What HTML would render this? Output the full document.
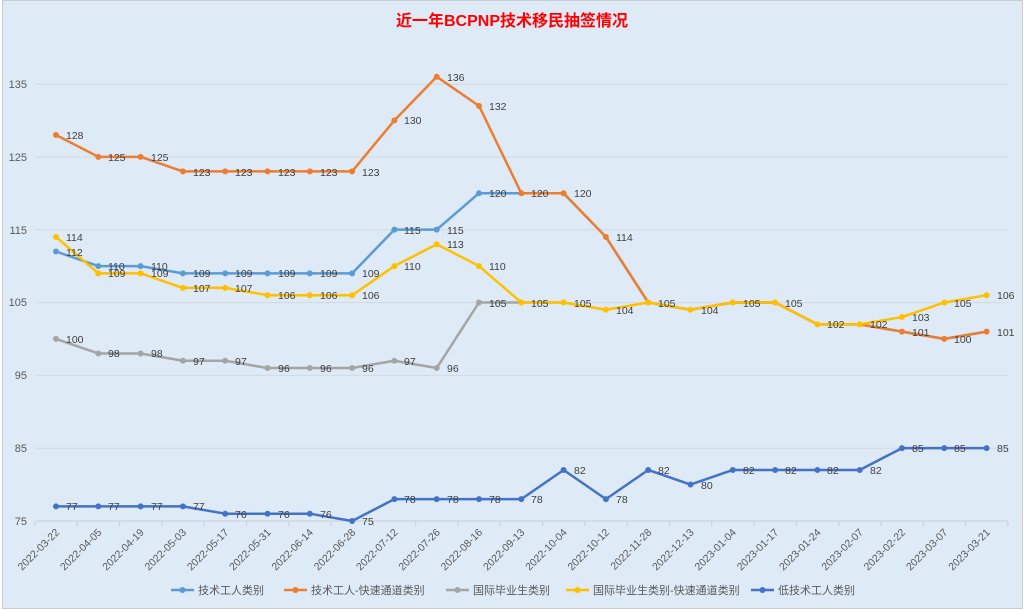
<!DOCTYPE html>
<html><head><meta charset="utf-8"><style>
html,body{margin:0;padding:0;background:#fff;}
svg{display:block;font-family:"Liberation Sans","Noto Sans CJK SC",sans-serif;}
</style></head><body>
<svg width="1024" height="610" viewBox="0 0 1024 610" xmlns="http://www.w3.org/2000/svg">
<rect x="0" y="0" width="1024" height="610" fill="#fff"/>
<rect x="2.5" y="0.5" width="1020" height="608" fill="#deeaf6" stroke="#c8cdd2"/>
<text x="512" y="26" text-anchor="middle" font-size="16" font-weight="bold" fill="#ff0000">近一年BCPNP技术移民抽签情况</text>
<g stroke="#d3d9de" stroke-width="1">
<line x1="36" x2="1008" y1="448.2" y2="448.2"/>
<line x1="36" x2="1008" y1="375.4" y2="375.4"/>
<line x1="36" x2="1008" y1="302.6" y2="302.6"/>
<line x1="36" x2="1008" y1="229.8" y2="229.8"/>
<line x1="36" x2="1008" y1="157" y2="157"/>
<line x1="36" x2="1008" y1="84.2" y2="84.2"/>
</g>
<line x1="36" x2="1008" y1="521" y2="521" stroke="#c8ced4"/>
<g stroke="#c8ced4" id="ticks">
<path d="M35 521v5M77.3 521v5M119.6 521v5M161.9 521v5M204.2 521v5M246.5 521v5M288.8 521v5M331.1 521v5M373.4 521v5M415.7 521v5M458 521v5M500.3 521v5M542.6 521v5M584.9 521v5M627.2 521v5M669.5 521v5M711.8 521v5M754.1 521v5M796.4 521v5M838.7 521v5M881 521v5M923.3 521v5M965.6 521v5M1007.9 521v5"/>
</g>
<g font-size="11" fill="#595959" text-anchor="end">
<text x="27" y="525">75</text><text x="27" y="452">85</text><text x="27" y="379">95</text>
<text x="27" y="306">105</text><text x="27" y="234">115</text><text x="27" y="161">125</text><text x="27" y="88">135</text>
</g>
<g font-size="10.5" fill="#595959" text-anchor="end">
<text transform="translate(60,533) rotate(-45)">2022-03-22</text>
<text transform="translate(102.3,533) rotate(-45)">2022-04-05</text>
<text transform="translate(144.6,533) rotate(-45)">2022-04-19</text>
<text transform="translate(186.9,533) rotate(-45)">2022-05-03</text>
<text transform="translate(229.2,533) rotate(-45)">2022-05-17</text>
<text transform="translate(271.5,533) rotate(-45)">2022-05-31</text>
<text transform="translate(313.8,533) rotate(-45)">2022-06-14</text>
<text transform="translate(356.1,533) rotate(-45)">2022-06-28</text>
<text transform="translate(398.4,533) rotate(-45)">2022-07-12</text>
<text transform="translate(440.7,533) rotate(-45)">2022-07-26</text>
<text transform="translate(483,533) rotate(-45)">2022-08-16</text>
<text transform="translate(525.3,533) rotate(-45)">2022-09-13</text>
<text transform="translate(567.6,533) rotate(-45)">2022-10-04</text>
<text transform="translate(609.9,533) rotate(-45)">2022-10-12</text>
<text transform="translate(652.2,533) rotate(-45)">2022-11-28</text>
<text transform="translate(694.5,533) rotate(-45)">2022-12-13</text>
<text transform="translate(736.8,533) rotate(-45)">2023-01-04</text>
<text transform="translate(779.1,533) rotate(-45)">2023-01-17</text>
<text transform="translate(821.4,533) rotate(-45)">2023-01-24</text>
<text transform="translate(863.7,533) rotate(-45)">2023-02-07</text>
<text transform="translate(906,533) rotate(-45)">2023-02-22</text>
<text transform="translate(948.3,533) rotate(-45)">2023-03-07</text>
<text transform="translate(990.6,533) rotate(-45)">2023-03-21</text>
</g>
<g transform="matrix(42.3,0,0,-7.283,56,1067.2)" fill="none" stroke-linejoin="round">
<!-- light blue -->
<polyline vector-effect="non-scaling-stroke" stroke="#5b9bd5" stroke-width="2.5" points="0,112 1,110 2,110 3,109 4,109 5,109 6,109 7,109 8,115 9,115 10,120 11,120 12,120 13,114 14,105 15,104 16,105 17,105 18,102 19,102 20,101 21,100 22,101"/>
<path vector-effect="non-scaling-stroke" stroke="#5b9bd5" stroke-width="6" stroke-linecap="round" d="M0 112h0M1 110h0M2 110h0M3 109h0M4 109h0M5 109h0M6 109h0M7 109h0M8 115h0M9 115h0M10 120h0M11 120h0"/>
<!-- orange -->
<polyline vector-effect="non-scaling-stroke" stroke="#ed7d31" stroke-width="2.5" points="0,128 1,125 2,125 3,123 4,123 5,123 6,123 7,123 8,130 9,136 10,132 11,120 12,120 13,114 14,105 15,104 16,105 17,105 18,102 19,102 20,101 21,100 22,101"/>
<path vector-effect="non-scaling-stroke" stroke="#ed7d31" stroke-width="6" stroke-linecap="round" d="M0 128h0M1 125h0M2 125h0M3 123h0M4 123h0M5 123h0M6 123h0M7 123h0M8 130h0M9 136h0M10 132h0M11 120h0M12 120h0M13 114h0M14 105h0M20 101h0M21 100h0M22 101h0"/>
<!-- gray -->
<polyline vector-effect="non-scaling-stroke" stroke="#a5a5a5" stroke-width="2.5" points="0,100 1,98 2,98 3,97 4,97 5,96 6,96 7,96 8,97 9,96 10,105 11,105 12,105"/>
<path vector-effect="non-scaling-stroke" stroke="#a5a5a5" stroke-width="6" stroke-linecap="round" d="M0 100h0M1 98h0M2 98h0M3 97h0M4 97h0M5 96h0M6 96h0M7 96h0M8 97h0M9 96h0M10 105h0"/>
<!-- yellow -->
<polyline vector-effect="non-scaling-stroke" stroke="#ffc000" stroke-width="2.5" points="0,114 1,109 2,109 3,107 4,107 5,106 6,106 7,106 8,110 9,113 10,110 11,105 12,105 13,104 14,105 15,104 16,105 17,105 18,102 19,102 20,103 21,105 22,106"/>
<path vector-effect="non-scaling-stroke" stroke="#ffc000" stroke-width="6" stroke-linecap="round" d="M0 114h0M1 109h0M2 109h0M3 107h0M4 107h0M5 106h0M6 106h0M7 106h0M8 110h0M9 113h0M10 110h0M11 105h0M12 105h0M13 104h0M14 105h0M15 104h0M16 105h0M17 105h0M18 102h0M19 102h0M20 103h0M21 105h0M22 106h0"/>
<!-- dark blue -->
<polyline vector-effect="non-scaling-stroke" stroke="#4472c4" stroke-width="2.5" points="0,77 1,77 2,77 3,77 4,76 5,76 6,76 7,75 8,78 9,78 10,78 11,78 12,82 13,78 14,82 15,80 16,82 17,82 18,82 19,82 20,85 21,85 22,85"/>
<path vector-effect="non-scaling-stroke" stroke="#4472c4" stroke-width="6" stroke-linecap="round" d="M0 77h0M1 77h0M2 77h0M3 77h0M4 76h0M5 76h0M6 76h0M7 75h0M8 78h0M9 78h0M10 78h0M11 78h0M12 82h0M13 78h0M14 82h0M15 80h0M16 82h0M17 82h0M18 82h0M19 82h0M20 85h0M21 85h0M22 85h0"/>
</g>
<g font-size="10.5" fill="#404040">
<!-- orange labels -->
<text x="66" y="139">128</text><text x="108" y="161">125</text><text x="151" y="161">125</text><text x="193" y="176">123</text><text x="235" y="176">123</text><text x="278" y="176">123</text><text x="320" y="176">123</text><text x="362" y="176">123</text><text x="404" y="124">130</text><text x="447" y="81">136</text><text x="489" y="110">132</text><text x="531" y="197">120</text><text x="574" y="197">120</text><text x="616" y="241">114</text>
<text x="912" y="336">101</text><text x="954" y="343">100</text><text x="997" y="336">101</text>
<!-- light blue labels -->
<text x="66" y="256">112</text><text x="108" y="270">110</text><text x="151" y="270">110</text><text x="193" y="277">109</text><text x="235" y="277">109</text><text x="278" y="277">109</text><text x="320" y="277">109</text><text x="362" y="277">109</text><text x="404" y="234">115</text><text x="447" y="234">115</text><text x="489" y="197">120</text>
<!-- yellow labels -->
<text x="66" y="241">114</text><text x="108" y="277">109</text><text x="151" y="277">109</text><text x="193" y="292">107</text><text x="235" y="292">107</text><text x="278" y="299">106</text><text x="320" y="299">106</text><text x="362" y="299">106</text><text x="404" y="270">110</text><text x="447" y="248">113</text><text x="489" y="270">110</text><text x="531" y="307">105</text><text x="574" y="307">105</text><text x="616" y="314">104</text><text x="658" y="307">105</text><text x="701" y="314">104</text><text x="743" y="307">105</text><text x="785" y="307">105</text><text x="827" y="328">102</text><text x="870" y="328">102</text><text x="912" y="321">103</text><text x="954" y="307">105</text><text x="997" y="299">106</text>
<!-- gray labels -->
<text x="66" y="343">100</text><text x="108" y="357">98</text><text x="151" y="357">98</text><text x="193" y="365">97</text><text x="235" y="365">97</text><text x="278" y="372">96</text><text x="320" y="372">96</text><text x="362" y="372">96</text><text x="404" y="365">97</text><text x="447" y="372">96</text><text x="489" y="307">105</text>
<!-- dark blue labels -->
<text x="66" y="510">77</text><text x="108" y="510">77</text><text x="151" y="510">77</text><text x="193" y="510">77</text><text x="235" y="518">76</text><text x="278" y="518">76</text><text x="320" y="518">76</text><text x="362" y="525">75</text><text x="404" y="503">78</text><text x="447" y="503">78</text><text x="489" y="503">78</text><text x="531" y="503">78</text><text x="574" y="474">82</text><text x="616" y="503">78</text><text x="658" y="474">82</text><text x="701" y="489">80</text><text x="743" y="474">82</text><text x="785" y="474">82</text><text x="827" y="474">82</text><text x="870" y="474">82</text><text x="912" y="452">85</text><text x="954" y="452">85</text><text x="997" y="452">85</text>
</g>
<g font-size="11" fill="#595959">
<line x1="171" x2="194" y1="590" y2="590" stroke="#5b9bd5" stroke-width="2.5"/><circle cx="182.5" cy="590" r="3" fill="#5b9bd5"/><text x="198" y="594">技术工人类别</text>
<line x1="284" x2="307" y1="590" y2="590" stroke="#ed7d31" stroke-width="2.5"/><circle cx="295.5" cy="590" r="3" fill="#ed7d31"/><text x="311" y="594">技术工人-快速通道类别</text>
<line x1="446" x2="469" y1="590" y2="590" stroke="#a5a5a5" stroke-width="2.5"/><circle cx="457.5" cy="590" r="3" fill="#a5a5a5"/><text x="473" y="594">国际毕业生类别</text>
<line x1="566" x2="589" y1="590" y2="590" stroke="#ffc000" stroke-width="2.5"/><circle cx="577.5" cy="590" r="3" fill="#ffc000"/><text x="593" y="594">国际毕业生类别-快速通道类别</text>
<line x1="751" x2="774" y1="590" y2="590" stroke="#4472c4" stroke-width="2.5"/><circle cx="762.5" cy="590" r="3" fill="#4472c4"/><text x="778" y="594">低技术工人类别</text>
</g>
</svg>
</body></html>
